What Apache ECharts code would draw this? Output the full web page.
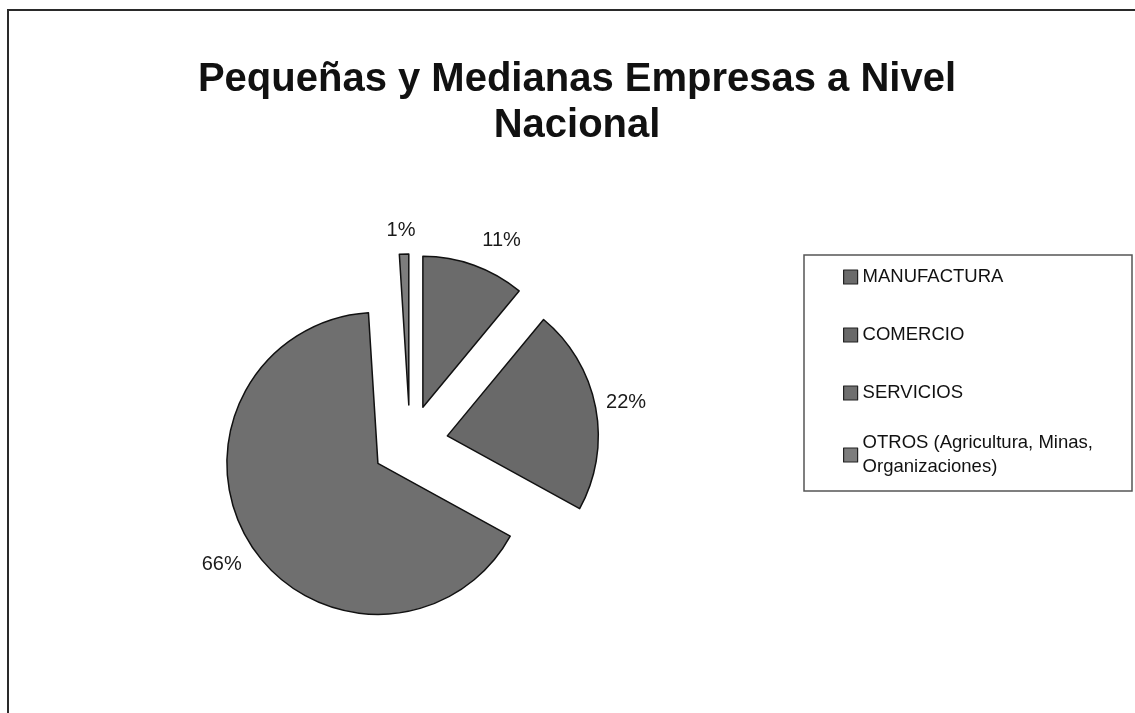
<!DOCTYPE html>
<html>
<head>
<meta charset="utf-8">
<script src="https://cdn.jsdelivr.net/npm/echarts@6/dist/echarts.min.js"></script>
<style>
  html, body { margin: 0; padding: 0; background: #fff; }
  #chart { width: 1135px; height: 713px; }
</style>
</head>
<body>
<div id="chart"></div>
<script>
const titleText = 'Pequeñas y Medianas Empresas a Nivel\nNacional';
const categories = ['MANUFACTURA', 'COMERCIO', 'SERVICIOS', 'OTROS (Agricultura, Minas, Organizaciones)'];
const values = [11, 22, 66, 1];
const sliceColors = ['#6b6b6b', '#696969', '#6f6f6f', '#7d7d7d'];
const labelOffsets = [[16, 7], [-3, 1], [0, 2], [-2, 10]];

const chart = echarts.init(document.getElementById('chart'), null, { renderer: 'canvas' });

const pieData = categories.map((c, i) => ({
  name: c,
  value: values[i],
  selected: true,
  itemStyle: { color: sliceColors[i] }
}));

const labelData = categories.map((c, i) => ({
  name: c,
  value: values[i],
  label: { offset: labelOffsets[i] }
}));

const sliceStyle = { borderColor: '#111', borderWidth: 1.5 };

const option = {
  animation: false,
  backgroundColor: '#ffffff',
  title: {
    text: titleText,
    left: 572,
    top: 52,
    textAlign: 'center',
    textStyle: {
      fontFamily: 'Liberation Sans, Arial, sans-serif',
      fontWeight: 'bold',
      fontSize: 40,
      lineHeight: 46,
      color: '#111'
    }
  },
  legend: [
    {
      data: categories.slice(0, 3),
      orient: 'vertical',
      left: 843,
      top: 265,
      padding: 0,
      itemGap: 34,
      itemWidth: 14,
      itemHeight: 14,
      icon: 'rect',
      selectedMode: false,
      itemStyle: { borderColor: '#222', borderWidth: 1.2 },
      textStyle: {
        fontFamily: 'Liberation Sans, Arial, sans-serif',
        fontSize: 18.5,
        lineHeight: 24,
        color: '#111'
      }
    },
    {
      data: [{
        name: categories[3],
        textStyle: { padding: [24, 0, 0, 0] }
      }],
      orient: 'vertical',
      left: 843,
      top: 419,
      padding: 0,
      itemWidth: 14,
      itemHeight: 14,
      icon: 'rect',
      selectedMode: false,
      itemStyle: { borderColor: '#222', borderWidth: 1.2 },
      formatter: function (name) { return name.replace(', Organizaciones', ',\nOrganizaciones'); },
      textStyle: {
        fontFamily: 'Liberation Sans, Arial, sans-serif',
        fontSize: 18.5,
        lineHeight: 24,
        color: '#111'
      }
    }
  ],
  graphic: [
    {
      type: 'rect',
      silent: true,
      shape: { x: 8, y: 10, width: 1300, height: 900 },
      style: { fill: null, stroke: '#2a2a2a', lineWidth: 2 }
    },
    {
      type: 'rect',
      silent: true,
      shape: { x: 804, y: 255, width: 328, height: 236 },
      style: { fill: null, stroke: '#555', lineWidth: 1.5 }
    }
  ],
  series: [
    {
      type: 'pie',
      name: 'pymes',
      center: [410, 443],
      radius: [0, 151],
      startAngle: 90,
      clockwise: true,
      selectedMode: 'multiple',
      selectedOffset: 38,
      silent: true,
      avoidLabelOverlap: false,
      label: { show: false },
      labelLine: { show: false },
      itemStyle: sliceStyle,
      emphasis: { disabled: true },
      select: { itemStyle: sliceStyle },
      data: pieData
    },
    {
      type: 'pie',
      name: 'etiquetas',
      center: [410, 443],
      radius: [200, 240],
      startAngle: 90,
      clockwise: true,
      silent: true,
      avoidLabelOverlap: false,
      itemStyle: { color: 'rgba(0,0,0,0)', borderWidth: 0 },
      emphasis: { disabled: true },
      labelLine: { show: false },
      label: {
        show: true,
        position: 'inside',
        formatter: '{c}%',
        fontFamily: 'Liberation Sans, Arial, sans-serif',
        fontSize: 20,
        color: '#1a1a1a'
      },
      data: labelData
    }
  ]
};

chart.setOption(option);
</script>
</body>
</html>
